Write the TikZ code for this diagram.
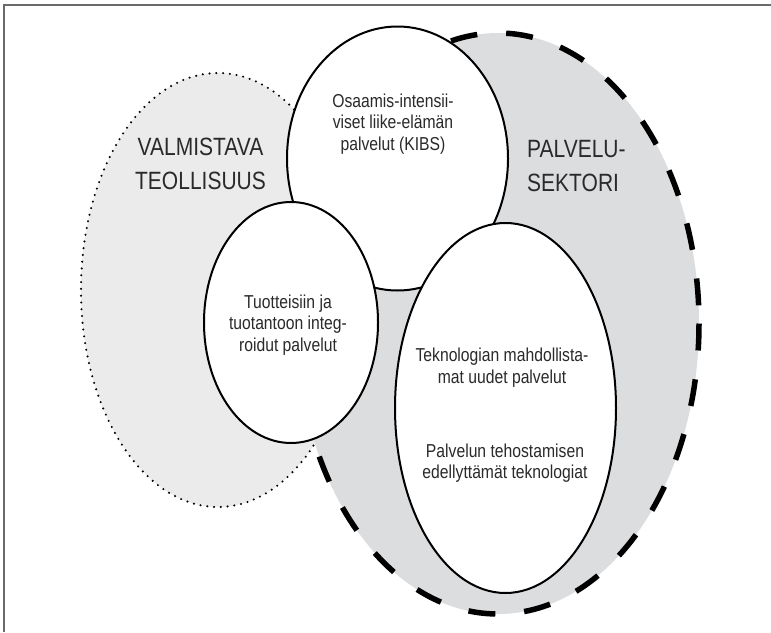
\documentclass[tikz,border=0pt]{standalone}
\usepackage{fontspec}
\setmainfont{Liberation Sans}[FakeStretch=0.84]
\definecolor{manufill}{HTML}{EBEBEC}
\definecolor{servfill}{HTML}{DCDDDF}
\definecolor{framecol}{HTML}{6A6A6A}
\definecolor{textcol}{HTML}{2A2A2A}
\begin{document}
\begin{tikzpicture}[x=1pt,y=-1pt,
  txt/.style={align=center, inner sep=0pt, text=textcol, font=\fontsize{18.7}{21.5}\selectfont},
  big/.style={align=center, inner sep=0pt, text=textcol, font=\fontsize{25}{34}\selectfont},
  whiteell/.style={draw=black, line width=2pt, fill=white},
  dottedell/.style={draw=black, fill=manufill, line width=2.3pt, line cap=round, dash pattern=on 0pt off 6.8pt},
  dashedell/.style={draw=black, fill=servfill, line width=5.5pt, dash pattern=on 27pt off 29pt},
  framestyle/.style={draw=framecol, line width=1.5pt}]
\useasboundingbox (0,0) rectangle (771,632);
\fill[white] (0,0) rectangle (771,632);
% frame (cropped: only top and left visible)
\draw[framestyle] (4,632) -- (4,5) -- (771,5);
% manufacturing (dotted)
\path[dottedell] (218,290) ellipse [x radius=137, y radius=217];
% service sector (dashed)
\path[dashedell] (498,323.5) ellipse [x radius=201, y radius=290.5];
% white ellipses
\path[whiteell] (397.5,158.5) ellipse [x radius=110.5, y radius=132];
\path[whiteell] (291,322.5) ellipse [x radius=87, y radius=120.5];
\path[whiteell] (505.5,408) ellipse [x radius=110.5, y radius=185];
% texts
\node[big] (valm) at (200.5,164) {VALMISTAVA\\TEOLLISUUS};
\node[big, align=left, anchor=west] (palv) at (527,166) {PALVELU-\\SEKTORI};
\node[txt] (kibs) at (393,124) {Osaamis-intensii-\\viset liike-elämän\\palvelut (KIBS)};
\node[txt] (tuot) at (288,325) {Tuotteisiin ja\\tuotantoon integ-\\roidut palvelut};
\node[txt] (tek1) at (502,367.5) {Teknologian mahdollista-\\mat uudet palvelut};
\node[txt] (tek2) at (505,463) {Palvelun tehostamisen\\edellyttämät teknologiat};
\end{tikzpicture}
\end{document}
